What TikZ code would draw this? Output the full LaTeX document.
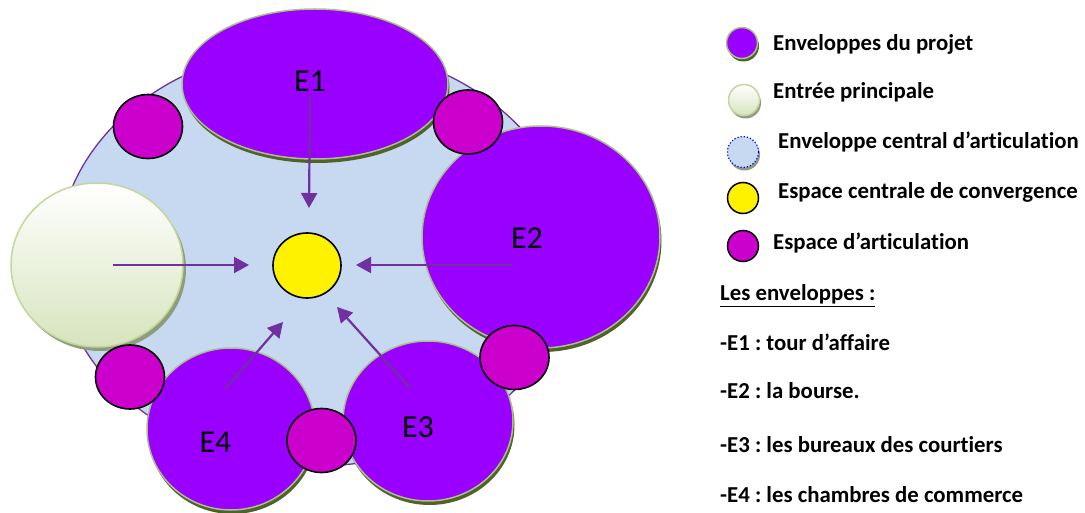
\documentclass[tikz,border=0pt]{standalone}
\usepackage{fontspec}
\setmainfont{Carlito}[Ligatures=NoCommon]
\usetikzlibrary{arrows.meta,shapes.geometric,shadows}
\frenchspacing

\definecolor{envpurple}{HTML}{9900FF}
\definecolor{artmagenta}{HTML}{CC00CC}
\definecolor{coreblue}{HTML}{C6D9F1}
\definecolor{linepurple}{HTML}{7030A0}
\definecolor{rimgreen}{HTML}{A9C47F}
\definecolor{shadegreen}{HTML}{4F6228}
\definecolor{entrygreen}{HTML}{D7E4BD}
\definecolor{entryrim}{HTML}{C3D69B}
\definecolor{entryshade}{HTML}{8E9C7E}

\tikzset{
  envelope/.style={ellipse, inner sep=0pt, fill=envpurple, draw=rimgreen, line width=1.5pt,
    general shadow={fill=shadegreen, shadow xshift=1.5pt, shadow yshift=-4pt}},
  articulation/.style={ellipse, inner sep=0pt, fill=artmagenta, draw=black, line width=1.6pt,
    minimum width=69pt, minimum height=64pt},
  convergence/.style={ellipse, inner sep=0pt, fill=yellow, draw=black, line width=1.6pt},
  entry/.style={ellipse, inner sep=0pt, top color=white, bottom color=entrygreen,
    draw=entryrim, line width=1.5pt,
    general shadow={fill=entryshade, shadow xshift=3pt, shadow yshift=-4pt}},
  core/.style={ellipse, inner sep=0pt, fill=coreblue, draw=linepurple, line width=1.3pt},
  elabel/.style={font=\fontsize{32}{36}\selectfont, anchor=base, inner sep=0pt},
  flow/.style={draw=linepurple, line width=2.2pt, -{Triangle[length=15pt,width=16pt]}},
  legtext/.style={font=\bfseries\fontsize{22.8}{26}\selectfont, anchor=base west, inner sep=0pt},
  legdot/.style={circle, inner sep=0pt, minimum size=31pt},
}

\begin{document}
\begin{tikzpicture}[x=1pt,y=-1pt]
\useasboundingbox (0,0) rectangle (1085,513);

% central articulation envelope
\node[core, minimum width=516pt, minimum height=420pt] (core) at (316,256) {};

% project envelopes and main entrance
\node[envelope, minimum width=266pt, minimum height=150pt] (e1) at (315,84) {};
\node[envelope, minimum width=238pt, minimum height=222pt] (e2) at (541,237) {};
\node[entry, minimum width=172pt, minimum height=164pt] (entree) at (97,265) {};
\node[envelope, minimum width=170pt, minimum height=160pt] (e3) at (428,421) {};
\node[envelope, minimum width=168pt, minimum height=162pt] (e4) at (231,429) {};

% envelope labels
\node[elabel] (l1) at (310,92) {E1};
\node[elabel] (l2) at (527,249) {E2};
\node[elabel] (l3) at (418,437) {E3};
\node[elabel] (l4) at (215.5,452) {E4};

% central convergence space
\node[convergence, minimum width=68pt, minimum height=65pt] (centre) at (307,265.5) {};

% flows towards the centre
\coordinate (s1) at (310,97);   \coordinate (t1) at (309,208);
\coordinate (s0) at (113,265);  \coordinate (t0) at (249,265);
\coordinate (s2) at (513,265);  \coordinate (t2) at (356,265);
\coordinate (s3) at (410,388);  \coordinate (t3) at (337,307);
\coordinate (s4) at (225,389);  \coordinate (t4) at (283,322);
\draw[flow] (s1) -- (t1);
\draw[flow] (s0) -- (t0);
\draw[flow] (s2) -- (t2);
\draw[flow] (s3) -- (t3);
\draw[flow] (s4) -- (t4);

% articulation spaces
\node[articulation] (a1) at (148,126.5) {};
\node[articulation] (a2) at (468,122) {};
\node[articulation] (a3) at (514.5,357.5) {};
\node[articulation] (a4) at (130,377) {};
\node[articulation] (a5) at (321.5,440.5) {};

% legend
\node[legdot, fill=envpurple, draw=rimgreen, line width=1.5pt,
  general shadow={fill=shadegreen, shadow xshift=1.5pt, shadow yshift=-3pt}] (k1) at (742,43) {};
\node[legtext] (k1t) at (773,51) {Enveloppes du projet};

\node[legdot, top color=white, bottom color=entrygreen, draw=entryrim, line width=1.5pt,
  general shadow={fill=entryshade, shadow xshift=1.5pt, shadow yshift=-3pt}] (k2) at (744,100) {};
\node[legtext] (k2t) at (773,99) {Entrée principale};

\node[legdot, fill=coreblue, draw=blue, line width=1.2pt, dotted,
  general shadow={fill=entryshade, shadow xshift=1.5pt, shadow yshift=-3pt}] (k3) at (743,152) {};
\node[legtext] (k3t) at (778,149) {Enveloppe central d’articulation};

\node[legdot, fill=yellow, draw=black, line width=1.5pt] (k4) at (743,198) {};
\node[legtext] (k4t) at (778,199) {Espace centrale de convergence};

\node[legdot, fill=artmagenta, draw=black, line width=1.5pt] (k5) at (743,246) {};
\node[legtext] (k5t) at (773,250) {Espace d’articulation};

\node[legtext] (h0) at (720,301) {\underline{Les enveloppes :}};
\node[legtext] (h1) at (720,350) {-E1 : tour d’affaire};
\node[legtext] (h2) at (720,398) {-E2 : la bourse.};
\node[legtext] (h3) at (720,452) {-E3 : les bureaux des courtiers};
\node[legtext] (h4) at (720,502) {-E4 : les chambres de commerce};
\end{tikzpicture}
\end{document}
